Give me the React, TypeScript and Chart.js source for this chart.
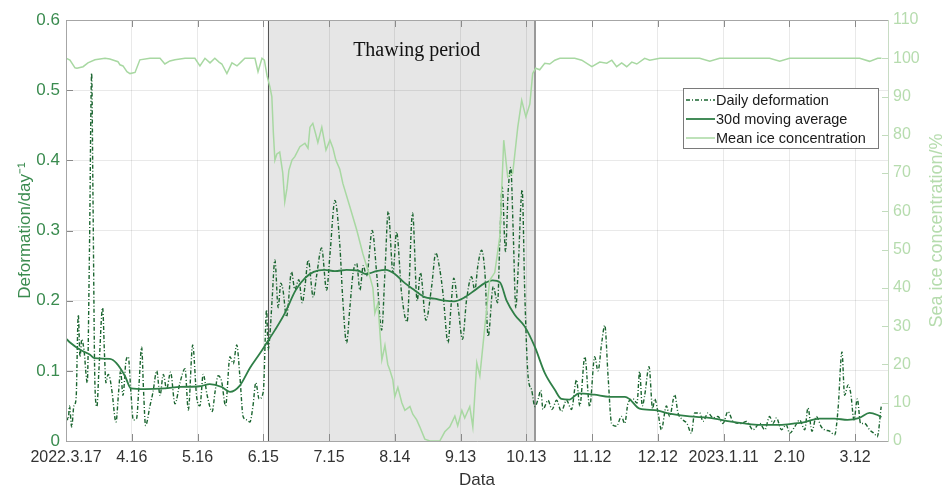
import React, { useEffect, useRef } from 'react';
import { Chart, registerables } from 'chart.js';

Chart.register(...registerables);

const FONT = "'Liberation Sans', Arial, Helvetica, sans-serif";
const SERIF = "'Liberation Serif', 'Times New Roman', serif";

// x axis: days since 2022-03-17
const tickDays = [0, 30, 60, 90, 120, 150, 180, 210, 240, 270, 300, 330, 360];
const tickLabels = ['2022.3.17', '4.16', '5.16', '6.15', '7.15', '8.14', '9.13', '10.13', '11.12', '12.12', '2023.1.11', '2.10', '3.12'];
const thawPeriod = [92, 214];
const thawLabelDay = 160;

// [day, deformation (day^-1)]
const dailyDeformation: [number, number][] = [
  [0, 0.035], [1, 0.03], [1.6, 0.05], [2.6, 0.02], [3.6, 0.05], [4.6, 0.06], [5.6, 0.18], [6.4, 0.12], [7.2, 0.145], [8.2, 0.13],
  [9.7, 0.083], [10.7, 0.27], [11.7, 0.524], [12.3, 0.35], [13.2, 0.08], [14.1, 0.049], [15, 0.1], [16.7, 0.19], [17.6, 0.12], [18.2, 0.083],
  [19.2, 0.095], [20, 0.09], [21, 0.07], [22.8, 0.027], [24, 0.07], [24.9, 0.1], [26, 0.065], [27.4, 0.115], [28.4, 0.12], [29.6, 0.07],
  [30.7, 0.03], [32.2, 0.032], [33.3, 0.08], [34.5, 0.134], [35.4, 0.07], [36.3, 0.022], [38.3, 0.05], [39.7, 0.07], [41.4, 0.1], [42.9, 0.065],
  [44.4, 0.095], [45.9, 0.074], [47.7, 0.098], [49.7, 0.053], [52, 0.083], [54.3, 0.103], [55.8, 0.044], [57.8, 0.137], [59.6, 0.063], [61.1, 0.05],
  [62.6, 0.095], [64.4, 0.065], [66.7, 0.042], [68, 0.07], [69.4, 0.093], [71, 0.085], [72.8, 0.05], [74.8, 0.12], [76.3, 0.11], [77.9, 0.137],
  [79.3, 0.093], [80.8, 0.035], [82.5, 0.03], [83.9, 0.027], [85.3, 0.05], [86.6, 0.083], [88.1, 0.06], [90, 0.07], [91.5, 0.187], [92.2, 0.13],
  [93, 0.15], [94, 0.2], [95.3, 0.258], [96.8, 0.19], [98, 0.225], [99, 0.215], [100.6, 0.177], [102.9, 0.241], [104.4, 0.216], [106.2, 0.23],
  [107.8, 0.197], [109, 0.22], [110.5, 0.258], [112.8, 0.205], [114.3, 0.235], [116.6, 0.275], [118.9, 0.215], [120.4, 0.265], [122.7, 0.343], [124.9, 0.28],
  [126.3, 0.2], [128, 0.14], [129.5, 0.19], [131, 0.24], [132.6, 0.253], [134.1, 0.215], [135.6, 0.25], [137.1, 0.235], [139.7, 0.3], [141.7, 0.24],
  [144, 0.158], [145.5, 0.24], [147, 0.327], [149.2, 0.24], [150.8, 0.298], [153.1, 0.21], [155.6, 0.17], [158.1, 0.325], [160.2, 0.2], [161.7, 0.24],
  [164.2, 0.172], [166.8, 0.22], [168.7, 0.268], [170.5, 0.245], [172, 0.21], [174.3, 0.14], [175.6, 0.19], [176.9, 0.232], [178.9, 0.19], [180.9, 0.145],
  [182.7, 0.2], [185, 0.234], [186.5, 0.215], [187.9, 0.25], [189.6, 0.272], [191.1, 0.24], [192.6, 0.149], [194.9, 0.22], [196.9, 0.197], [197.9, 0.284],
  [199, 0.362], [200.5, 0.27], [201.7, 0.355], [202.9, 0.39], [204, 0.3], [205.2, 0.19], [206.2, 0.24], [208.1, 0.358], [209.3, 0.21], [210.8, 0.092],
  [212.4, 0.073], [213.9, 0.049], [215.4, 0.06], [216.6, 0.072], [217.6, 0.045], [219.9, 0.058], [221.7, 0.045], [223.8, 0.058], [226, 0.042], [228.3, 0.058],
  [230.6, 0.045], [232.9, 0.087], [234.4, 0.05], [236.7, 0.12], [238.9, 0.049], [241.2, 0.12], [242.7, 0.1], [244.4, 0.14], [245.8, 0.165], [247.3, 0.092],
  [248.9, 0.025], [251.1, 0.021], [253.4, 0.035], [254.9, 0.025], [256.4, 0.054], [258.7, 0.06], [260.5, 0.054], [261.7, 0.099], [262.9, 0.05], [264, 0.065],
  [266, 0.106], [267.6, 0.046], [268.6, 0.06], [270.1, 0.04], [271.6, 0.016], [273.9, 0.05], [275.4, 0.035], [277.7, 0.066], [279.2, 0.04], [281.5, 0.03],
  [283.3, 0.025], [285.3, 0.011], [286.8, 0.04], [289.1, 0.04], [290.6, 0.028], [292.9, 0.04], [295.2, 0.033], [297.4, 0.035], [299.7, 0.025], [302, 0.042],
  [304.3, 0.028], [308.1, 0.025], [310.4, 0.028], [313.4, 0.016], [316.5, 0.025], [318.8, 0.016], [321, 0.035], [322.5, 0.025], [324.1, 0.033], [326.4, 0.016],
  [328.6, 0.023], [330.1, 0.011], [332.4, 0.02], [334.7, 0.03], [337, 0.016], [338.5, 0.047], [340.3, 0.014], [342.3, 0.035], [344.6, 0.02], [346.1, 0.016],
  [348.4, 0.014], [350.7, 0.009], [352.2, 0.045], [354, 0.127], [355.2, 0.065], [356.8, 0.08], [358, 0.068], [359.5, 0.03], [361, 0.06], [362.5, 0.025],
  [364.3, 0.025], [366.6, 0.016], [368.9, 0.01], [370.1, 0.006], [371.9, 0.049],
];

// [day, 30-day moving average]
const movingAverage: [number, number][] = [
  [0, 0.146], [2, 0.14], [6.4, 0.13], [11, 0.123], [13, 0.118], [20, 0.117], [23, 0.111], [27, 0.092], [29.6, 0.075], [36, 0.074],
  [45, 0.075], [52, 0.077], [61, 0.078], [65.6, 0.081], [71, 0.077], [74.8, 0.07], [79.3, 0.079], [83.9, 0.104], [88.5, 0.125], [91.6, 0.14],
  [95.3, 0.158], [99.8, 0.182], [104.8, 0.215], [109, 0.232], [113, 0.241], [118, 0.244], [122.7, 0.242], [128, 0.244], [133, 0.243], [137, 0.238],
  [141.5, 0.242], [146, 0.244], [150, 0.238], [154.6, 0.225], [159, 0.215], [163.7, 0.205], [168, 0.203], [172.8, 0.2], [177, 0.199], [182, 0.205],
  [186.5, 0.215], [191, 0.225], [194.6, 0.229], [198, 0.226], [201, 0.2], [204.7, 0.18], [209.3, 0.163], [213.9, 0.134], [218.4, 0.097], [223, 0.073],
  [226, 0.06], [229.6, 0.059], [234, 0.068], [241, 0.066], [248, 0.063], [255, 0.063], [257, 0.06], [261.7, 0.046], [268.6, 0.044], [275.4, 0.039],
  [284.5, 0.035], [293.6, 0.033], [302.7, 0.028], [309.5, 0.025], [316.5, 0.023], [325.6, 0.023], [332.4, 0.025], [337, 0.027], [343.8, 0.032], [350.6, 0.032],
  [356.5, 0.03], [362, 0.033], [366.6, 0.04], [370.2, 0.037], [372, 0.034],
];

// [day, mean ice concentration (%)]
const iceConcentration: [number, number][] = [
  [0, 100], [1.8, 99.5], [4.1, 97.5], [5, 97.4], [7.8, 97.8], [10, 98.8], [13.2, 99.6], [17.8, 100], [20, 99.8], [23.7, 99.1],
  [24.6, 98.3], [26, 98], [27.8, 96.5], [29.2, 96], [31.5, 96.3], [33.7, 99.6], [38.3, 100], [42.9, 100], [45.1, 98.5], [47.4, 99.3],
  [49.7, 99.6], [54.3, 100], [58.8, 100], [61.1, 98], [63.4, 100], [65.7, 98.8], [67.9, 100], [69.8, 99], [71.1, 98.5], [73.4, 96],
  [75.7, 98.8], [78, 98], [79.8, 99], [81.6, 100], [86.2, 100], [87.6, 96.5], [89.4, 100], [90.5, 99.5], [91.7, 95.5], [93, 92.6],
  [93.9, 90], [94.6, 80.5], [95.3, 73.4], [96.2, 75], [97.5, 75.5], [98.9, 70], [99.8, 62.5], [100.8, 66], [101.7, 70.8], [103.1, 73.4],
  [104.4, 74.3], [106.7, 76.9], [109, 77.8], [110.4, 76.5], [111.3, 82], [112.6, 83], [114, 80], [114.9, 78], [116.7, 82], [118.6, 76],
  [120.4, 78.6], [121.8, 76.5], [123.1, 73.4], [124.9, 71], [126.3, 67.3], [129.5, 61.2], [132.7, 55], [135.4, 49], [138.6, 43], [140, 40],
  [140.9, 33.4], [142.3, 36], [144.1, 21.2], [145.5, 25], [146.8, 20], [147.7, 18.6], [149.1, 16], [150, 11.6], [151.4, 14], [153.2, 10],
  [154.6, 8], [156.9, 9], [158.2, 7], [160, 5.5], [161.4, 3.7], [163.7, 0.5], [166, 0], [170.5, 0], [172.8, 2.4], [175.1, 3.7],
  [177.4, 6.5], [178.7, 4], [180.6, 8], [181.9, 6], [184.2, 9], [185.6, 3.7], [187.4, 20.4], [188.8, 17], [191.1, 30], [193.3, 42],
  [195.6, 44], [197.9, 53.4], [199.7, 78.6], [201.5, 69], [203.8, 70], [206.1, 82], [207.9, 89], [209.8, 84.7], [211.6, 88], [212.9, 96],
  [214.3, 97.4], [216.1, 97], [218.4, 98.7], [220.7, 98.5], [223, 99.5], [225.3, 100], [232.1, 100], [235.3, 99.5], [239.9, 97.8], [243.5, 99],
  [246.7, 98.7], [249, 99.5], [251.2, 97.8], [253.5, 98.8], [255.8, 97.8], [258.1, 99], [260.4, 98.5], [264, 100], [266.3, 99.5], [270.9, 100],
  [289.1, 100], [293.7, 99.2], [298.2, 100], [321, 100], [325.6, 99.2], [330.1, 100], [362.1, 100], [366.6, 99.2], [370.3, 100], [372, 100],
];

const COLOR_DAILY = '#1b6530';
const COLOR_AVG = '#2f7f47';
const COLOR_ICE = '#a8d8a2';
const COLOR_LEFT = '#3a8b4f';
const COLOR_RIGHT = '#b6dcae';
const DAILY_DASH = [4, 2, 1, 2];

const decorPlugin = {
  id: 'decor',
  beforeDraw(chart: any) {
    const { ctx, chartArea: a, scales } = chart;
    const x0 = scales.x.getPixelForValue(thawPeriod[0]);
    const x1 = scales.x.getPixelForValue(thawPeriod[1]);
    ctx.save();
    ctx.fillStyle = '#e6e6e6';
    ctx.fillRect(x0, a.top, x1 - x0, a.bottom - a.top);
    ctx.restore();
  },
  beforeDatasetsDraw(chart: any) {
    const { ctx, chartArea: a, scales } = chart;
    const x0 = Math.round(scales.x.getPixelForValue(thawPeriod[0])) + 0.5;
    const x1 = Math.round(scales.x.getPixelForValue(thawPeriod[1]));
    ctx.save();
    ctx.strokeStyle = '#555';
    ctx.lineWidth = 1;
    ctx.beginPath();
    ctx.moveTo(x0, a.top);
    ctx.lineTo(x0, a.bottom);
    ctx.stroke();
    ctx.strokeStyle = '#999';
    ctx.lineWidth = 2;
    ctx.beginPath();
    ctx.moveTo(x1, a.top);
    ctx.lineTo(x1, a.bottom);
    ctx.stroke();
    ctx.restore();
  },
  afterDatasetsDraw(chart: any) {
    const { ctx, chartArea: a, scales } = chart;
    ctx.save();
    // inward ticks
    ctx.strokeStyle = '#8a8a8a';
    ctx.lineWidth = 1;
    ctx.beginPath();
    tickDays.forEach((d) => {
      const px = Math.round(scales.x.getPixelForValue(d)) + 0.5;
      ctx.moveTo(px, a.bottom);
      ctx.lineTo(px, a.bottom - 7);
      ctx.moveTo(px, a.top);
      ctx.lineTo(px, a.top + 7);
    });
    for (let v = 0; v <= 6; v++) {
      const py = Math.round(scales.y.getPixelForValue(v / 10)) + 0.5;
      ctx.moveTo(a.left, py);
      ctx.lineTo(a.left + 7, py);
    }
    ctx.stroke();
    ctx.strokeStyle = '#c2dcbd';
    ctx.beginPath();
    for (let v = 0; v <= 110; v += 10) {
      const py = Math.round(scales.y2.getPixelForValue(v)) + 0.5;
      ctx.moveTo(a.right, py);
      ctx.lineTo(a.right - 6, py);
    }
    ctx.stroke();
    // box
    ctx.strokeStyle = '#a6a6a6';
    ctx.beginPath();
    ctx.moveTo(a.right, a.top + 0.5);
    ctx.lineTo(a.left + 0.5, a.top + 0.5);
    ctx.lineTo(a.left + 0.5, a.bottom + 0.5);
    ctx.lineTo(a.right, a.bottom + 0.5);
    ctx.stroke();
    ctx.strokeStyle = '#c8dcc4';
    ctx.beginPath();
    ctx.moveTo(a.right + 0.5, a.top);
    ctx.lineTo(a.right + 0.5, a.bottom + 1);
    ctx.stroke();

    // thawing label
    ctx.fillStyle = '#111';
    ctx.font = `20px ${SERIF}`;
    ctx.textAlign = 'center';
    ctx.textBaseline = 'middle';
    ctx.fillText('Thawing period', scales.x.getPixelForValue(thawLabelDay), a.top + 31);

    // legend
    const lw = 195, lh = 60;
    const lx = a.right - 10 - lw;
    const ly = a.top + 68;
    ctx.fillStyle = '#fff';
    ctx.fillRect(lx, ly, lw, lh);
    ctx.strokeStyle = '#7a7a7a';
    ctx.lineWidth = 1;
    ctx.strokeRect(lx + 0.5, ly + 0.5, lw, lh);
    const items = [
      { label: 'Daily deformation', color: COLOR_DAILY, dash: DAILY_DASH, width: 1.4 },
      { label: '30d moving average', color: COLOR_AVG, dash: [], width: 1.8 },
      { label: 'Mean ice concentration', color: COLOR_ICE, dash: [], width: 1.5 },
    ];
    ctx.font = `14.5px ${FONT}`;
    ctx.textAlign = 'left';
    items.forEach((it, i) => {
      const cy = ly + 12 + i * 19;
      ctx.strokeStyle = it.color;
      ctx.lineWidth = it.width;
      ctx.setLineDash(it.dash);
      ctx.beginPath();
      ctx.moveTo(lx + 3, cy);
      ctx.lineTo(lx + 32, cy);
      ctx.stroke();
      ctx.setLineDash([]);
      ctx.fillStyle = '#1a1a1a';
      ctx.fillText(it.label, lx + 33, cy + 1);
    });

    // right axis title (reads bottom to top)
    ctx.translate(a.right + 49, (a.top + a.bottom) / 2);
    ctx.rotate(-Math.PI / 2);
    ctx.fillStyle = COLOR_RIGHT;
    ctx.font = `18px ${FONT}`;
    ctx.textAlign = 'center';
    ctx.textBaseline = 'middle';
    ctx.fillText('Sea ice concentration/%', 0, 0);
    ctx.restore();
  },
};

export default function App() {
  const ref = useRef<HTMLCanvasElement | null>(null);

  useEffect(() => {
    document.body.style.margin = '0';
    const canvas = ref.current;
    if (!canvas) return;
    const gridColor = 'rgba(0,0,0,0.085)';
    const chart = new Chart(canvas, {
      type: 'line',
      data: {
        datasets: [
          {
            label: 'Mean ice concentration',
            data: iceConcentration.map(([x, y]) => ({ x, y })),
            borderColor: COLOR_ICE,
            borderWidth: 1.5,
            pointRadius: 0,
            tension: 0,
            yAxisID: 'y2',
            order: 0,
          },
          {
            label: '30d moving average',
            data: movingAverage.map(([x, y]) => ({ x, y })),
            borderColor: COLOR_AVG,
            borderWidth: 1.8,
            pointRadius: 0,
            cubicInterpolationMode: 'monotone',
            yAxisID: 'y',
            order: 1,
          },
          {
            label: 'Daily deformation',
            data: dailyDeformation.map(([x, y]) => ({ x, y })),
            borderColor: COLOR_DAILY,
            borderWidth: 1.4,
            borderDash: DAILY_DASH,
            pointRadius: 0,
            cubicInterpolationMode: 'monotone',
            yAxisID: 'y',
            order: 2,
          },
        ],
      },
      options: {
        responsive: false,
        animation: false,
        events: [],
        layout: { padding: { top: 20, left: 0, right: 0, bottom: 0 } },
        plugins: { legend: { display: false }, tooltip: { enabled: false } },
        scales: {
          x: {
            type: 'linear',
            min: 0,
            max: 375,
            afterBuildTicks: (s: any) => {
              s.ticks = tickDays.map((v) => ({ value: v }));
            },
            afterFit: (s: any) => {
              s.height = 48;
            },
            ticks: {
              autoSkip: false,
              maxRotation: 0,
              padding: 7,
              color: '#333',
              font: { family: FONT, size: 16 },
              callback: (_v: any, i: number) => tickLabels[i] ?? '',
            },
            grid: { color: gridColor, drawTicks: false },
            border: { display: false },
            title: {
              display: true,
              text: 'Data',
              color: '#333',
              font: { family: FONT, size: 17, lineHeight: 1 },
              padding: { top: 0, bottom: 0 },
            },
          },
          y: {
            position: 'left',
            min: 0,
            max: 0.6,
            afterFit: (s: any) => {
              s.width = 66;
            },
            ticks: {
              stepSize: 0.1,
              padding: 6,
              color: COLOR_LEFT,
              font: { family: FONT, size: 17 },
            },
            grid: { color: gridColor, drawTicks: false },
            border: { display: false },
            title: {
              display: true,
              text: 'Deformation/day⁻¹',
              color: COLOR_LEFT,
              font: { family: FONT, size: 17, lineHeight: 1 },
              padding: { top: 17, bottom: 0 },
            },
          },
          y2: {
            position: 'right',
            min: 0,
            max: 110,
            afterFit: (s: any) => {
              s.width = 56;
            },
            ticks: {
              stepSize: 10,
              padding: 5,
              color: COLOR_RIGHT,
              font: { family: FONT, size: 16 },
            },
            grid: { drawOnChartArea: false, drawTicks: false },
            border: { display: false },
          },
        },
      },
      plugins: [decorPlugin],
    });
    return () => chart.destroy();
  }, []);

  return (
    <div style={{ width: 944, height: 489 }}>
      <canvas ref={ref} width={944} height={489} style={{ display: 'block' }} />
    </div>
  );
}
